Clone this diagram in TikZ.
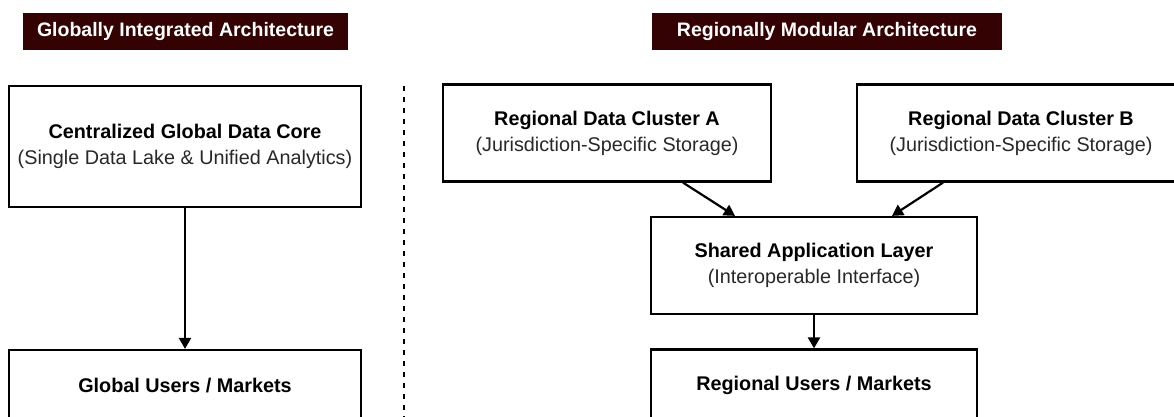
\documentclass[tikz,border=0pt]{standalone}
\usepackage{fontspec}
\setmainfont{Liberation Sans}
\usetikzlibrary{arrows.meta}
\definecolor{hdr}{RGB}{52,2,2}
\definecolor{subgray}{RGB}{40,40,40}
\tikzset{
  box/.style={draw=black, line width=2.2pt, fill=white, inner sep=0pt, align=center,
    font=\fontsize{19.8}{26}\selectfont},
  hdrbox/.style={fill=hdr, text=white, inner sep=0pt, align=center,
    font=\fontsize{19.5}{24}\selectfont\bfseries, minimum height=37pt},
  conn/.style={line width=2.2pt, -{Triangle[length=11pt,width=12pt]}},
  sep/.style={line width=2.2pt, dash pattern=on 5pt off 6pt}
}
\newcommand{\ttl}[1]{{\bfseries #1}}
\newcommand{\subt}[1]{{\color{subgray}#1}}
\begin{document}
\begin{tikzpicture}[x=1pt,y=-1pt]
\clip (0,0) rectangle (1174,417);
\fill[white] (0,0) rectangle (1174,417);
% headers
\node[hdrbox, minimum width=325pt] (h1) at (185.5,31.5) {Globally Integrated Architecture};
\node[hdrbox, minimum width=350pt] (h2) at (827,31.5) {Regionally Modular Architecture};
% separator
\coordinate (s1) at (404,86);
\coordinate (s2) at (404,420);
\draw[sep] (s1) -- (s2);
% left side
\node[box, minimum width=352pt, minimum height=121pt] (core) at (185,146.5)
  {\ttl{Centralized Global Data Core}\\\subt{(Single Data Lake \& Unified Analytics)}};
\node[box, minimum width=352pt, minimum height=72pt] (gu) at (185,386)
  {\ttl{Global Users / Markets}};
\draw[conn] (core.south) -- (gu.north);
% right side
\node[box, minimum width=328pt, minimum height=97pt] (ca) at (607,133)
  {\ttl{Regional Data Cluster A}\\\subt{(Jurisdiction-Specific Storage)}};
\node[box, minimum width=328pt, minimum height=97pt] (cb) at (1021,133)
  {\ttl{Regional Data Cluster B}\\\subt{(Jurisdiction-Specific Storage)}};
\node[box, minimum width=326pt, minimum height=97pt] (sh) at (814,265.5)
  {\ttl{Shared Application Layer}\\\subt{(Interoperable Interface)}};
\node[box, minimum width=326pt, minimum height=72pt] (ru) at (814,385.5)
  {\ttl{Regional Users / Markets}};
\draw[conn] ([xshift=76pt]ca.south) -- ([xshift=-79pt]sh.north);
\draw[conn] ([xshift=-78pt]cb.south) -- ([xshift=78pt]sh.north);
\draw[conn] (sh.south) -- (ru.north);
\end{tikzpicture}
\end{document}
